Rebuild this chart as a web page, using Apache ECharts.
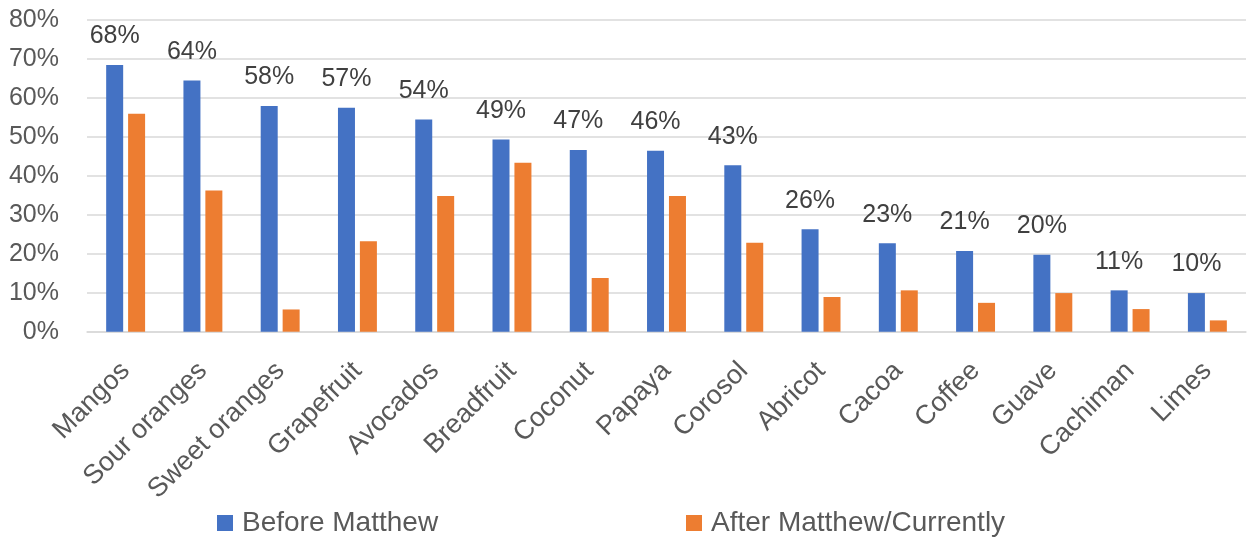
<!DOCTYPE html>
<html>
<head>
<meta charset="utf-8">
<script src="https://cdn.jsdelivr.net/npm/echarts@6/dist/echarts.min.js"></script>
<style>
html,body{margin:0;padding:0;background:#fff;}
#chart{width:1248px;height:539px;}
</style>
</head>
<body>
<div id="chart"></div>
<script>
const categories = ['Mangos','Sour oranges','Sweet oranges','Grapefruit','Avocados','Breadfruit','Coconut','Papaya','Corosol','Abricot','Cacoa','Coffee','Guave','Cachiman','Limes'];
const beforeValues = [68.4, 64.4, 57.9, 57.4, 54.4, 49.3, 46.6, 46.4, 42.7, 26.3, 22.7, 20.7, 19.7, 10.6, 9.9];
const afterValues = [55.9, 36.2, 5.7, 23.2, 34.8, 43.3, 13.8, 34.8, 22.8, 8.9, 10.6, 7.4, 9.9, 5.8, 2.9];
const seriesNames = ['Before Matthew', 'After Matthew/Currently'];
const yMin = 0, yMax = 80, yStep = 10;

const FONT = 'Liberation Sans';
const chart = echarts.init(document.getElementById('chart'), null, {renderer: 'canvas'});
const legendText = {color: '#595959', fontSize: 28, fontFamily: FONT, padding: [0, 0, 0, 4]};
chart.setOption({
  animation: false,
  backgroundColor: '#fff',
  grid: {left: 87, right: 2, top: 19.7, bottom: 207.3, containLabel: false},
  legend: [
    {data: [seriesNames[0]], left: 217, top: 509, padding: 0, icon: 'rect', itemWidth: 16, itemHeight: 16, textStyle: legendText},
    {data: [seriesNames[1]], left: 686, top: 509, padding: 0, icon: 'rect', itemWidth: 16, itemHeight: 16, textStyle: legendText}
  ],
  xAxis: {
    type: 'category',
    data: categories,
    axisLine: {lineStyle: {color: '#d9d9d9', width: 1.5}},
    axisTick: {show: false},
    axisLabel: {
      interval: 0, rotate: 45, margin: 35,
      align: 'right', verticalAlign: 'middle',
      color: '#595959', fontSize: 27, fontFamily: FONT
    }
  },
  yAxis: {
    type: 'value', min: yMin, max: yMax, interval: yStep,
    axisLine: {show: false}, axisTick: {show: false},
    splitLine: {lineStyle: {color: '#d9d9d9', width: 1.5}},
    axisLabel: {formatter: '{value}%', color: '#595959', fontSize: 25, fontFamily: FONT, margin: 28}
  },
  series: [
    {
      name: seriesNames[0], type: 'bar', data: beforeValues,
      barWidth: 17, barGap: '29%',
      itemStyle: {color: '#4472C4'},
      label: {show: true, position: 'top', distance: 16, color: '#404040', fontSize: 25, fontFamily: FONT,
        formatter: p => Math.round(p.value) + '%'}
    },
    {
      name: seriesNames[1], type: 'bar', data: afterValues,
      barWidth: 17, barGap: '29%',
      itemStyle: {color: '#ED7D31'}
    }
  ]
});
</script>
</body>
</html>
